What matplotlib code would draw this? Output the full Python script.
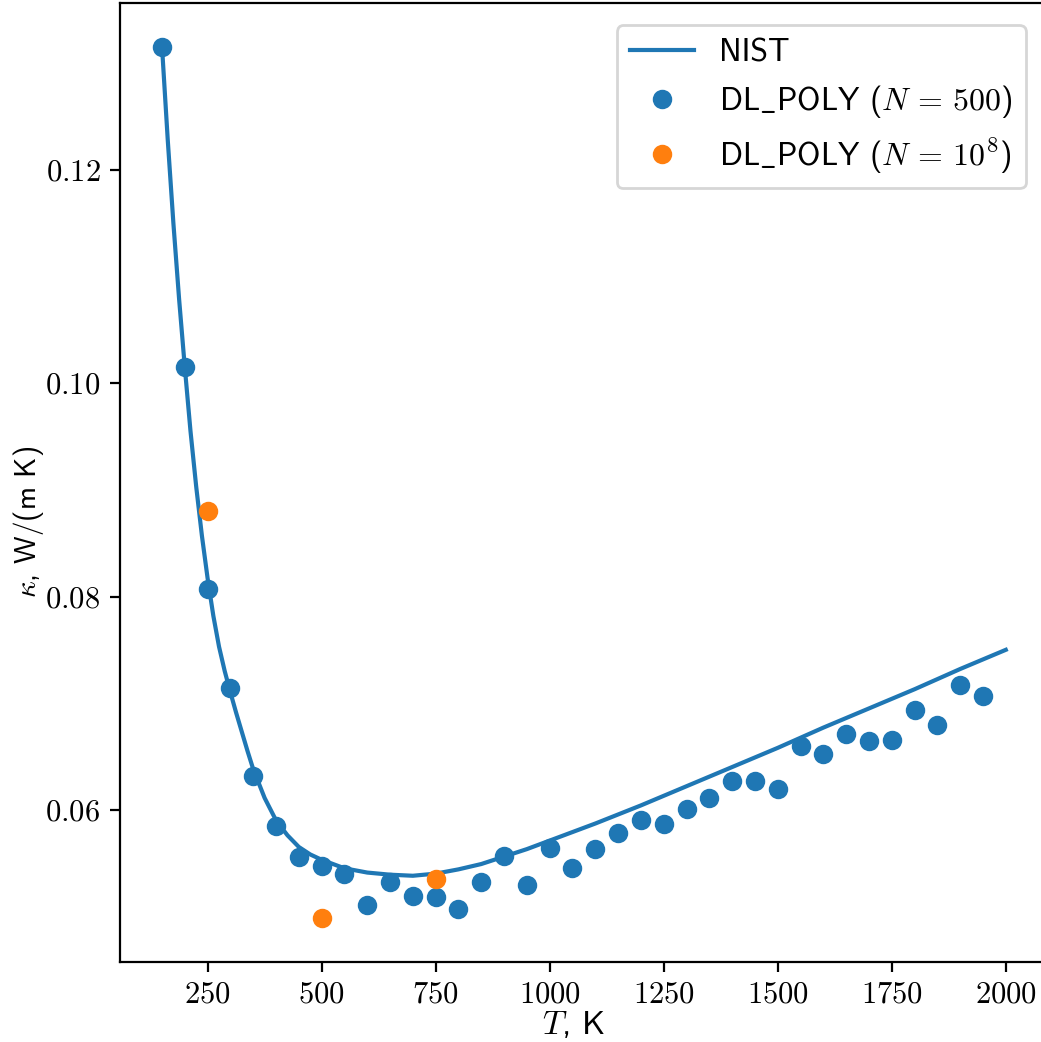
import matplotlib
matplotlib.use('Agg')
import matplotlib.pyplot as plt
from matplotlib.ticker import FuncFormatter

# NIST reference curve
nist_T = [150, 162.5, 175, 187.5, 200, 212.5, 225, 237.5, 250, 262.5, 275, 287.5,
          300, 312.5, 325, 337.5, 350, 375, 400, 425, 450, 475, 500, 550, 600, 650,
          700, 750, 800, 850, 900, 950, 1000, 1100, 1200, 1300, 1400, 1500, 1600,
          1700, 1800, 1900, 2000]
nist_k = [0.1316, 0.1229, 0.1150, 0.1079, 0.1015, 0.0955, 0.0903, 0.0857, 0.0817,
          0.0782, 0.0753, 0.0730, 0.0710, 0.0691, 0.0673, 0.0655, 0.0638, 0.0611,
          0.0590, 0.0576, 0.0565, 0.0558, 0.0553, 0.0545, 0.0541, 0.0539, 0.0538,
          0.0540, 0.0544, 0.0549, 0.0556, 0.0563, 0.0571, 0.0587, 0.0604, 0.0622,
          0.0640, 0.0658, 0.0677, 0.0695, 0.0713, 0.0732, 0.0750]

# DL_POLY, N = 500
md_T = [150, 200, 250, 300, 350, 400, 450, 500, 550, 600, 650, 700, 750, 800, 850,
        900, 950, 1000, 1050, 1100, 1150, 1200, 1250, 1300, 1350, 1400, 1450, 1500,
        1550, 1600, 1650, 1700, 1750, 1800, 1850, 1900, 1950]
md_k = [0.1316, 0.1015, 0.0807, 0.0714, 0.0632, 0.0585, 0.0556, 0.0547, 0.0540,
        0.0511, 0.0532, 0.0519, 0.0518, 0.0507, 0.0532, 0.0557, 0.0529, 0.0564,
        0.0545, 0.0563, 0.0578, 0.0590, 0.0587, 0.0601, 0.0611, 0.0627, 0.0627,
        0.0619, 0.0660, 0.0652, 0.0671, 0.0664, 0.0665, 0.0694, 0.0679, 0.0717,
        0.0707]

# DL_POLY, N = 10^8
big_T = [250, 500, 750]
big_k = [0.0880, 0.0498, 0.0535]

plt.rcParams['font.family'] = ['cmss10', 'DejaVu Sans']
plt.rcParams['mathtext.fontset'] = 'cm'
plt.rcParams['axes.unicode_minus'] = False

fig = plt.figure(figsize=(10.41 / 2, 10.42 / 2), dpi=200)
ax = fig.add_axes([0.1151, 0.0768, 0.8916, 0.9203])

ax.plot(nist_T, nist_k, color='C0', label='NIST')
ax.plot(md_T, md_k, 'o', color='C0', label=r'DL$\_$POLY ($N \,=\, 500$)')
ax.plot(big_T, big_k, 'o', color='C1', label=r'DL$\_$POLY ($N \,=\, 10^8$)')

ax.set_xticks([250, 500, 750, 1000, 1250, 1500, 1750, 2000])
ax.set_yticks([0.06, 0.08, 0.10, 0.12])
ax.xaxis.set_major_formatter(FuncFormatter(lambda v, p: '$%d$' % v))
ax.yaxis.set_major_formatter(FuncFormatter(lambda v, p: '$%.2f$' % v))
ax.tick_params(labelsize=11)

ax.set_xlabel(r'$T$, K', fontsize=12)
ax.set_ylabel(r'$\kappa$, W/(m K)', fontsize=10.5)
ax.xaxis.set_label_coords(0.489, -0.049)
ax.yaxis.set_label_coords(-0.08, 0.459)
ax.legend(fontsize=11.5, borderaxespad=0.7)

plt.savefig('out.png', dpi=200)
